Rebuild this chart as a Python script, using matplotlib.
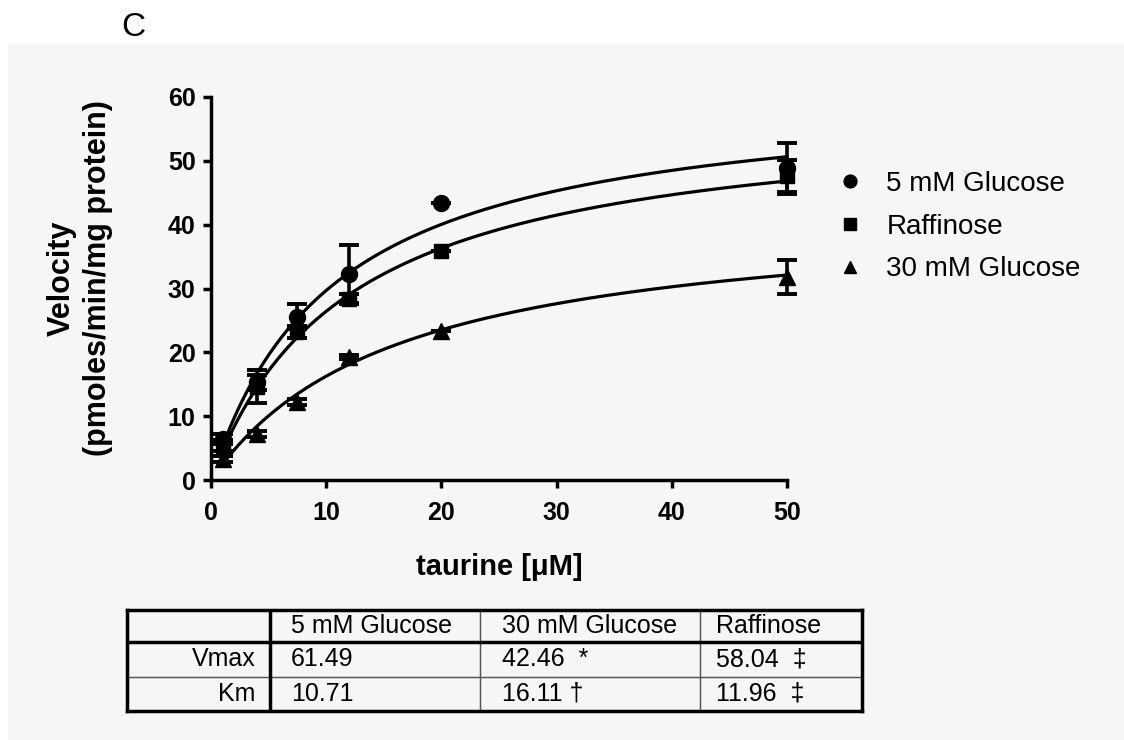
import numpy as np
import matplotlib
matplotlib.use("Agg")
import matplotlib.pyplot as plt
from matplotlib.lines import Line2D
from matplotlib.patches import Rectangle

plt.rcParams['font.family'] = ['Liberation Sans', 'DejaVu Sans']

# Taurine concentrations (uM)
taurine = [1, 4, 7.5, 12, 20, 50]

# Measured uptake velocities (pmoles/min/mg protein) and SEM
glc5 = [6.4, 15.3, 25.6, 32.3, 43.4, 48.8]
glc5_err = [0.8, 1.2, 1.9, 4.5, 0.0, 4.0]
raff = [5.4, 14.6, 23.2, 28.3, 35.8, 47.6]
raff_err = [0.8, 2.6, 1.0, 0.8, 0.0, 2.5]
glc30 = [3.3, 7.2, 12.2, 19.3, 23.4, 31.8]
glc30_err = [0.5, 0.4, 0.5, 0.3, 0.0, 2.6]

# Michaelis-Menten fit parameters
conditions = ["5 mM Glucose", "30 mM Glucose", "Raffinose"]
vmax = [61.49, 42.46, 58.04]
km = [10.71, 16.11, 11.96]
vmax_marks = ["", "  *", "  \u2021"]
km_marks = ["", " \u2020", "  \u2021"]

xticks = [0, 10, 20, 30, 40, 50]
yticks = [0, 10, 20, 30, 40, 50, 60]

fig = plt.figure(figsize=(11.24, 7.40), dpi=100)
fig.patches.append(Rectangle((8 / 1124, 0), 1, 1 - 44 / 740, transform=fig.transFigure,
                             facecolor="#f6f6f6", edgecolor="none", zorder=-10))
fig.text(121 / 1124, 1 - 28 / 740, "C", fontsize=24, ha="left", va="center")

ax = fig.add_axes([211 / 1124, 1 - 480 / 740, 576 / 1124, 383 / 740])
ax.set_facecolor("none")

series = [
    ("5 mM Glucose", glc5, glc5_err, "o", 11.5, vmax[0], km[0]),
    ("Raffinose", raff, raff_err, "s", 10, vmax[2], km[2]),
    ("30 mM Glucose", glc30, glc30_err, "^", 11, vmax[1], km[1]),
]

xs = np.linspace(taurine[0], taurine[-1], 300)
handles = []
for label, y, err, mk, ms, vm, k in series:
    ax.plot(xs, vm * xs / (k + xs), color="black", lw=2.3, zorder=2, clip_on=False)
    eb = ax.errorbar(taurine, y, yerr=err, fmt=mk, ms=ms, color="black", ecolor="black",
                     elinewidth=2.6, capsize=7, capthick=2.8, zorder=3)
    for art in eb.get_children():
        art.set_clip_on(False)
    handles.append(Line2D([], [], ls="none", marker=mk, ms=ms * 0.8, color="black", label=label))

ax.set_xlim(0, 50)
ax.set_ylim(0, 60)
ax.set_xticks(xticks)
ax.set_yticks(yticks)
for s in ("top", "right"):
    ax.spines[s].set_visible(False)
for s in ("left", "bottom"):
    ax.spines[s].set_linewidth(2.5)
ax.tick_params(direction="out", length=6, width=2.5, labelsize=18)
ax.tick_params(axis="x", pad=9)
ax.tick_params(axis="y", pad=5)
for t in ax.get_xticklabels() + ax.get_yticklabels():
    t.set_fontweight("bold")

ax.set_xlabel("taurine [\u03bcM]", fontsize=21, fontweight="bold", labelpad=20)
fig.text(80 / 1124, 1 - 278 / 740, "Velocity\n(pmoles/min/mg protein)", rotation=90,
         fontsize=22, fontweight="bold", ha="center", va="center",
         multialignment="center", linespacing=1.25)

fig.legend(handles=handles, loc="upper left",
           bbox_to_anchor=(828 / 1124, 1 - 160 / 740), bbox_transform=fig.transFigure,
           frameon=False, fontsize=20, handlelength=0.8, handletextpad=0.9,
           labelspacing=0.6, borderaxespad=0.0)

# Kinetic parameter table
tax = fig.add_axes([127 / 1124, 1 - 711 / 740, 735 / 1124, 101 / 740])
tax.set_xticks([])
tax.set_yticks([])
tax.set_facecolor("none")
for s in tax.spines.values():
    s.set_linewidth(2.5)

col_w = [143, 210, 220, 162]
row_h = [32, 35, 34]
tot_w = sum(col_w)
tot_h = sum(row_h)
cell_text = [[""] + conditions,
             ["Vmax"] + [f"{v:.2f}{m}" for v, m in zip(vmax, vmax_marks)],
             ["Km"] + [f"{v:.2f}{m}" for v, m in zip(km, km_marks)]]
tbl = tax.table(cellText=cell_text, colWidths=[w / tot_w for w in col_w],
                bbox=[0, 0, 1, 1], cellLoc="left")
tbl.auto_set_font_size(False)
tbl.set_fontsize(18)
for (r, c), cell in tbl.get_celld().items():
    cell.set_edgecolor("#555555")
    cell.set_linewidth(0.9)
    cell.set_facecolor("none")
    cell.set_height(row_h[r] / tot_h)
    if c == 0:
        cell.get_text().set_ha("right")
        cell._loc = "right"
tax.axvline(col_w[0] / tot_w, color="black", lw=2.5)
tax.axhline(1 - row_h[0] / tot_h, color="black", lw=2.5)

fig.savefig("out.png", dpi=100)
